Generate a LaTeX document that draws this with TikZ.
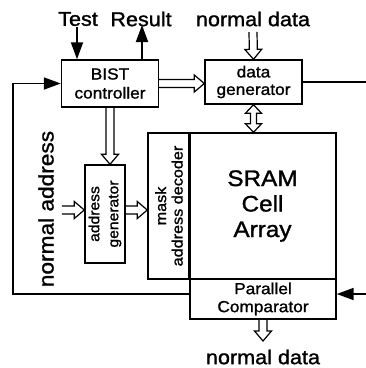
\documentclass[tikz,border=0pt]{standalone}
\usepackage{fontspec}
\setmainfont{Liberation Sans}[FakeStretch=1.08,FakeBold=1.3]
\usetikzlibrary{arrows.meta,calc}

\newcommand\hollowArrow[2]{%
  \path (#1) coordinate (ha-s) (#2) coordinate (ha-e);
  \path ($(ha-e)!10pt!(ha-s)$) coordinate (ha-c);
  \draw[hollow] ($(ha-s)!4pt!90:(ha-e)$) -- ($(ha-c)!4pt!-90:(ha-s)$)
    -- ($(ha-c)!8.5pt!-90:(ha-s)$) -- (ha-e) -- ($(ha-c)!8.5pt!90:(ha-s)$)
    -- ($(ha-c)!4pt!90:(ha-s)$) -- ($(ha-s)!4pt!-90:(ha-e)$);
}
\newcommand\hollowDArrow[2]{%
  \path (#1) coordinate (hd-s) (#2) coordinate (hd-e);
  \path ($(hd-e)!8.5pt!(hd-s)$) coordinate (hd-c);
  \path ($(hd-s)!8.5pt!(hd-e)$) coordinate (hd-d);
  \draw[hollow] (hd-s) -- ($(hd-d)!8pt!90:(hd-e)$) -- ($(hd-d)!3pt!90:(hd-e)$)
    -- ($(hd-c)!3pt!-90:(hd-s)$) -- ($(hd-c)!8pt!-90:(hd-s)$) -- (hd-e)
    -- ($(hd-c)!8pt!90:(hd-s)$) -- ($(hd-c)!3pt!90:(hd-s)$)
    -- ($(hd-d)!3pt!-90:(hd-e)$) -- ($(hd-d)!8pt!-90:(hd-e)$) -- cycle;
}

\begin{document}
\begin{tikzpicture}[x=1pt,y=-1pt,
  box/.style={draw,line width=1.4pt,inner sep=0pt,align=center},
  wire/.style={line width=1.8pt},
  tip/.style={-{Triangle[length=17pt,width=12pt]}},
  hollow/.style={draw,line width=1.2pt,line join=miter},
  lbl/.style={inner sep=0pt,font=\fontsize{20}{22}\selectfont}]
\useasboundingbox (0,0) rectangle (366,368);

% blocks
\node[box,minimum width=97pt,minimum height=47pt,font=\fontsize{16}{19}\selectfont] (bist) at (110,83.5) {BIST\\controller};
\node[box,minimum width=97pt,minimum height=44pt,font=\fontsize{16}{17.5}\selectfont] (dg) at (253.5,82) {data\\generator};
\node[box,rotate=90,minimum width=98pt,minimum height=40pt,font=\fontsize{14.5}{19}\selectfont] (ag) at (105,214) {address\\generator};
\node[box,rotate=90,minimum width=146pt,minimum height=42pt,font=\fontsize{15}{16.5}\selectfont] (md) at (169,206) {mask\\address decoder};
\node[box,minimum width=147pt,minimum height=146pt,font=\fontsize{22.5}{25.5}\selectfont] (sram) at (262.5,206) {SRAM\\Cell\\Array};
\node[box,minimum width=146pt,minimum height=40pt,font=\fontsize{16}{18}\selectfont] (pc) at (263,299) {Parallel\\Comparator};

% labels
\node[lbl] (test) at (78,19) {Test};
\node[lbl] (result) at (141,19) {Result};
\node[lbl] (ndin) at (253,19) {normal data};
\node[lbl] (ndout) at (263,357) {normal data};
\node[lbl,rotate=90,font=\fontsize{21}{24}\selectfont] (na) at (46,209) {normal address};

% free ends
\coordinate (testtop) at (77,27);
\coordinate (restop) at (142,25);
\coordinate (ndtop) at (253,32);
\coordinate (ndbot) at (263,341);
\coordinate (nain) at (62,210);
\coordinate (fb) at (13,294);
\coordinate (edgeR) at (366,0);

% solid connectors
\draw[wire,tip] (testtop) -- (testtop |- bist.north);
\draw[wire,tip] (restop |- bist.north) -- (restop);
\draw[wire,tip] (pc.west |- fb) -- (fb) -- (fb |- bist.west) -- (bist.west);
\draw[wire] (dg.east) -- (dg.east -| edgeR);
\draw[wire,tip] (edgeR |- fb) -- (pc.east |- fb);

% hollow arrows
\hollowArrow{ndtop}{dg.north}
\hollowArrow{bist.east}{bist.east -| dg.west}
\hollowArrow{bist.south}{bist.south |- ag.east}
\hollowArrow{nain}{nain -| ag.north}
\hollowArrow{nain -| ag.south}{nain -| md.north}
\hollowDArrow{dg.south}{dg.south |- sram.north}
\hollowArrow{pc.south}{ndbot}
\end{tikzpicture}
\end{document}
